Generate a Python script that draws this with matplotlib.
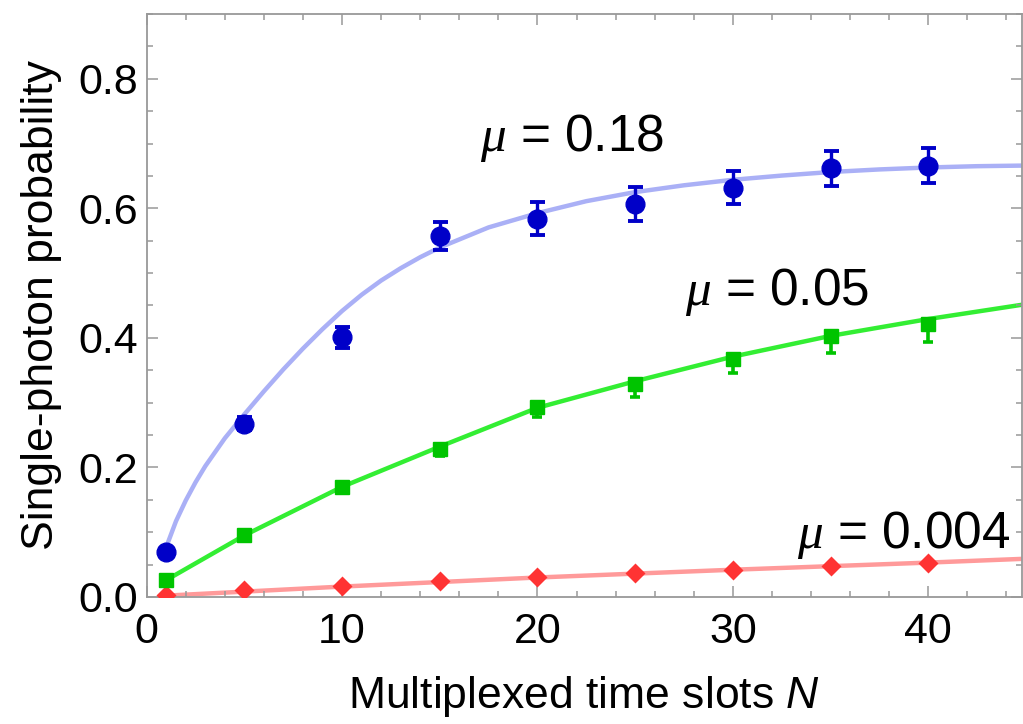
import matplotlib
matplotlib.use("Agg")
import matplotlib.pyplot as plt
from matplotlib.ticker import MultipleLocator

plt.rcParams['font.family'] = ['Liberation Sans', 'DejaVu Sans']
plt.rcParams['mathtext.fontset'] = 'custom'
plt.rcParams['mathtext.rm'] = 'Liberation Sans'
plt.rcParams['mathtext.it'] = 'Liberation Serif:italic'
plt.rcParams['mathtext.sf'] = 'Liberation Sans:italic'

# measured points
N_data = [1, 5, 10, 15, 20, 25, 30, 35, 40]
p_018 = [0.0695, 0.2675, 0.401, 0.557, 0.584, 0.607, 0.632, 0.662, 0.666]
e_018 = [0.004, 0.010, 0.016, 0.022, 0.025, 0.026, 0.026, 0.027, 0.027]
p_005 = [0.026, 0.095, 0.170, 0.228, 0.293, 0.328, 0.368, 0.403, 0.421]
e_005_lo = [0.003, 0.004, 0.006, 0.010, 0.015, 0.020, 0.022, 0.026, 0.027]
e_005_hi = [0.003, 0.004, 0.005, 0.006, 0.006, 0.006, 0.006, 0.006, 0.006]
p_0004 = [0.0025, 0.010, 0.017, 0.0245, 0.031, 0.037, 0.042, 0.048, 0.052]

# fitted curves
N_fit_018 = [1, 1.5, 2, 2.5, 3, 4, 5, 6, 7, 8, 9, 10, 11, 12, 13, 14, 15,
             17.5, 20, 22.5, 25, 27.5, 30, 32.5, 35, 37.5, 40, 42.5, 45]
fit_018 = [0.077, 0.117, 0.149, 0.177, 0.202, 0.245, 0.282, 0.3175, 0.3515, 0.3835,
           0.4135, 0.4415, 0.4665, 0.4885, 0.5075, 0.5245, 0.5395,
           0.5705, 0.5925, 0.611, 0.625, 0.6355, 0.644, 0.6505, 0.656, 0.660,
           0.663, 0.665, 0.666]
N_fit_005 = [1, 5, 10, 15, 20, 25, 30, 35, 40, 45]
fit_005 = [0.026, 0.095, 0.170, 0.232, 0.292, 0.333, 0.371, 0.403, 0.429, 0.452]
N_fit_0004 = [1, 10, 20, 30, 40, 45]
fit_0004 = [0.002, 0.016, 0.030, 0.042, 0.053, 0.059]

fig = plt.figure(figsize=(10.23, 7.24), dpi=100)
ax = fig.add_axes([0.1434, 0.1755, 0.9990 - 0.1434, 0.9807 - 0.1755])

ax.plot(N_fit_018, fit_018, color='#aab0f6', lw=3.2, solid_capstyle='round',
        solid_joinstyle='round', zorder=1)
ax.plot(N_fit_005, fit_005, color='#33ee33', lw=3.2, solid_capstyle='round',
        solid_joinstyle='round', zorder=1)
ax.plot(N_fit_0004, fit_0004, color='#ff9a9a', lw=3.2, solid_capstyle='round', zorder=1)

ax.errorbar(N_data, p_018, yerr=e_018, fmt='o', color='#0000c8', ms=13.5,
            elinewidth=2.4, capsize=5.4, capthick=2.8, zorder=3)
ax.errorbar(N_data, p_005, yerr=[e_005_lo, e_005_hi], fmt='s', color='#00c400', ms=9.5,
            elinewidth=2.6, capsize=3.6, capthick=2.6, zorder=3)
ax.plot(N_data, p_0004, 'D', color='#ff3333', ms=10, mec='none', zorder=3)

ax.text(17.07, 0.708, r'$\mu$ = 0.18', fontsize=37, va='center', ha='left')
ax.text(27.56, 0.471, r'$\mu$ = 0.05', fontsize=37, va='center', ha='left')
ax.text(33.28, 0.095, r'$\mu$ = 0.004', fontsize=37, va='center', ha='left')

ax.set_xlim(0, 44.8)
ax.set_ylim(0, 0.9)
ax.xaxis.set_major_locator(MultipleLocator(10))
ax.xaxis.set_minor_locator(MultipleLocator(2))
ax.yaxis.set_minor_locator(MultipleLocator(0.05))
ax.set_yticks([0.0, 0.2, 0.4, 0.6, 0.8])
ax.set_yticklabels(['0.0', '0.2', '0.4', '0.6', '0.8'])

for s in ax.spines.values():
    s.set_color('#999999')
    s.set_linewidth(1.3)
ax.tick_params(which='both', direction='in', top=True, right=True, color='#999999', width=1.1)
ax.tick_params(which='major', length=8, labelsize=31)
ax.tick_params(which='minor', length=4.5)
ax.tick_params(axis='x', which='major', pad=11)
ax.tick_params(axis='y', which='major', pad=6)

ax.set_xlabel(r'Multiplexed time slots $\mathsf{N}$', fontsize=32, labelpad=16)
ax.set_ylabel('Single-photon probability', fontsize=32, labelpad=12)

fig.savefig('out.png', dpi=100)
